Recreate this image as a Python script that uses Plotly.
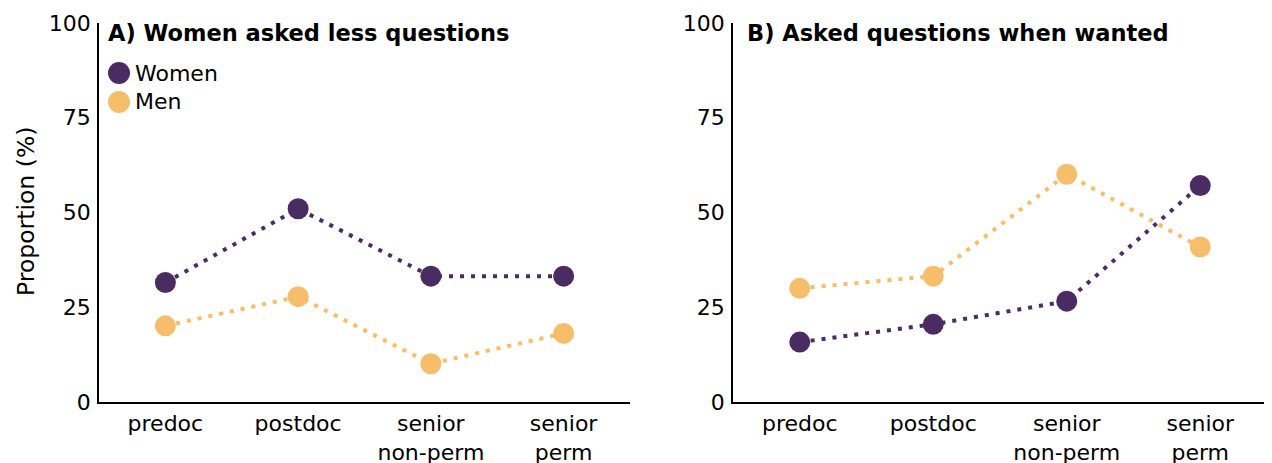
import plotly.graph_objects as go

categories = ["predoc", "postdoc", "senior<br>non-perm", "senior<br>perm"]
y_ticks = [0, 25, 50, 75, 100]

# Panel A: Women asked less questions
a_women = [31.5, 51.0, 33.2, 33.2]
a_men = [20.1, 27.8, 10.1, 18.1]

# Panel B: Asked questions when wanted
b_women = [15.8, 20.5, 26.6, 57.1]
b_men = [30.0, 33.2, 60.1, 40.9]

titles = ["A) Women asked less questions", "B) Asked questions when wanted"]
series_names = ["Women", "Men"]

PURPLE = "#4a2c62"
ORANGE = "#f6bd6a"
FONT = "DejaVu Sans, Liberation Sans, Arial, sans-serif"
FS = 22

W, H = 1272, 463
OFF = 8  # page body margin

def px(x):
    return (x - OFF) / W

def py(y):
    return 1 - (y - OFF) / H

fig = go.Figure()

panels = [("x", "y", a_women, a_men), ("x2", "y2", b_women, b_men)]
for xa, ya, women, men in panels:
    for vals, color in ((women, PURPLE), (men, ORANGE)):
        fig.add_trace(go.Scatter(
            x=categories, y=vals, xaxis=xa, yaxis=ya,
            mode="lines+markers",
            line=dict(color=color, width=4, dash="4px,7px"),
            marker=dict(color=color, size=21),
            showlegend=False, hoverinfo="skip",
        ))

axis_common = dict(
    showgrid=False, zeroline=False, showline=True, automargin=False,
    linecolor="black", linewidth=1.5, ticks="",
    tickfont=dict(family=FONT, size=FS, color="black"),
)

fig.update_layout(
    width=W, height=H,
    margin=dict(l=0, r=0, t=0, b=0),
    plot_bgcolor="white", paper_bgcolor="white",
    showlegend=False,
    xaxis=dict(domain=[px(99), px(630)], type="category",
               categoryorder="array", categoryarray=categories,
               range=[-0.5, 3.5], anchor="y", ticklabelstandoff=1,
               **axis_common),
    yaxis=dict(domain=[py(402), py(23)], range=[0, 100],
               tickvals=y_ticks, anchor="x", ticklabelstandoff=2,
               **axis_common),
    xaxis2=dict(domain=[px(733), px(1267)], type="category",
                categoryorder="array", categoryarray=categories,
                range=[-0.5, 3.5], anchor="y2", ticklabelstandoff=1,
                **axis_common),
    yaxis2=dict(domain=[py(402), py(23)], range=[0, 100],
                tickvals=y_ticks, anchor="x2", ticklabelstandoff=2,
                **axis_common),
)

annotations = [
    dict(text="<b>" + titles[0] + "</b>", x=px(106), y=py(33),
         xanchor="left", yanchor="middle",
         font=dict(family=FONT, size=22.5, color="black")),
    dict(text="<b>" + titles[1] + "</b>", x=px(745), y=py(33),
         xanchor="left", yanchor="middle",
         font=dict(family=FONT, size=22.5, color="black")),
    dict(text="Proportion (%)", x=px(26), y=py(212), textangle=-90,
         xanchor="center", yanchor="middle",
         font=dict(family=FONT, size=23.5, color="black")),
]
for a in annotations:
    a.update(xref="paper", yref="paper", showarrow=False)

# legend keys
legend_y = [73, 102]
for name, color, ly in zip(series_names, (PURPLE, ORANGE), legend_y):
    fig.add_shape(type="circle", xref="paper", yref="paper",
                  x0=px(108), x1=px(130), y0=py(ly + 11), y1=py(ly - 11),
                  fillcolor=color, line=dict(width=0))
    annotations.append(dict(text=name, x=px(133), y=py(ly), xref="paper",
                            yref="paper", showarrow=False, xanchor="left",
                            yanchor="middle",
                            font=dict(family=FONT, size=FS, color="black")))

fig.update_layout(annotations=annotations)
fig.write_html("out.html")
